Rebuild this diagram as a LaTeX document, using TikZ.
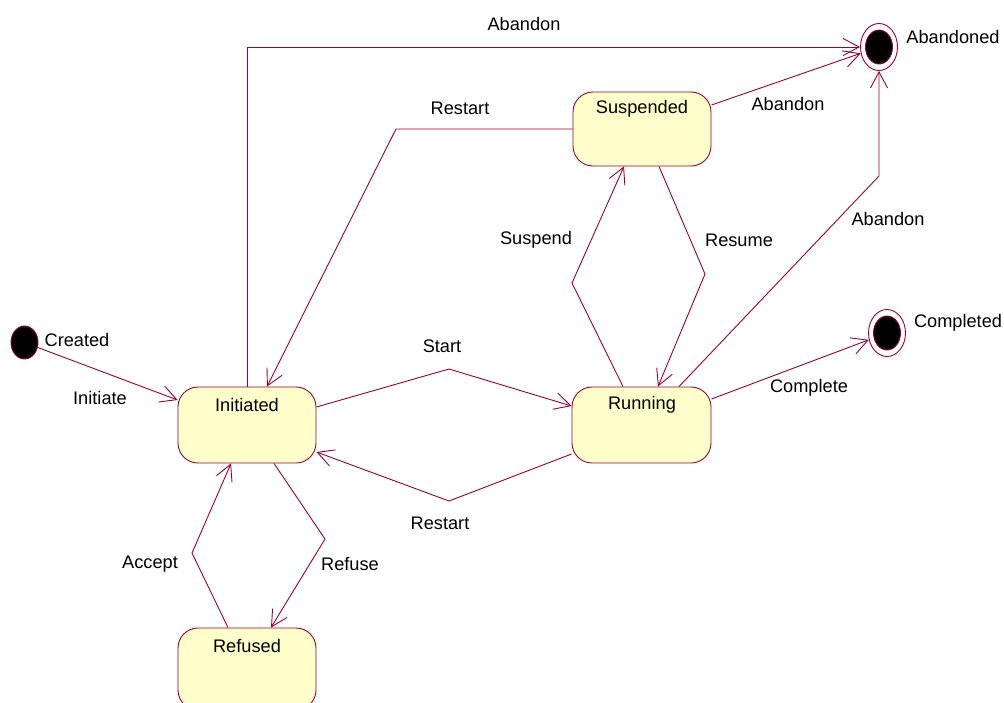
\documentclass[tikz,border=0pt]{standalone}
\usepackage{fontspec}
\setmainfont{Liberation Sans}
\usetikzlibrary{arrows.meta,shapes.geometric}
\definecolor{edgecol}{RGB}{153,0,51}
\definecolor{statefill}{RGB}{255,255,204}
\begin{document}
\begin{tikzpicture}[x=1pt,y=-1pt,
  every node/.style={font=\fontsize{18.2}{22}\selectfont, inner sep=0pt},
  state/.style={draw=edgecol, fill=statefill, line width=0.9pt, rounded corners=20pt,
    minimum width=138pt, minimum height=76pt, rectangle},
  initial/.style={ellipse, draw=edgecol, fill=black, line width=0.9pt,
    minimum width=27pt, minimum height=33pt},
  finalouter/.style={ellipse, draw=edgecol, fill=white, line width=0.9pt,
    minimum width=37pt, minimum height=47pt},
  finalinner/.style={ellipse, draw=edgecol, fill=black, line width=0.9pt,
    minimum width=27pt, minimum height=34pt},
  trans/.style={draw=edgecol, line width=0.9pt,
    -{Straight Barb[length=16pt,width=17pt,line width=0.9pt]}},
  lbl/.style={text=black}
]
\useasboundingbox (0,0) rectangle (1004,702);
\fill[white] (0,0) rectangle (1004,702);
\clip (0,0) rectangle (1004,702);

% states
\node[state] (init) at (247,425) {};
\node[state, minimum height=74pt] (susp) at (642,129) {};
\node[state, minimum width=139pt] (run) at (641.5,425) {};
\node[state, minimum height=82pt] (ref) at (247,669) {};

\node[lbl] (tinit) at (247,405) {Initiated};
\node[lbl] (tsusp) at (642,109) {Suspended};
\node[lbl] (trun) at (642,405) {Running};
\node[lbl] (tref) at (247,646) {Refused};

% pseudo states
\node[initial] (created) at (24.5,342.5) {};
\node[finalouter] (abandoned) at (879,47) {};
\node[finalinner] (abandonedin) at (879,47) {};
\node[finalouter] (completed) at (887,333) {};
\node[finalinner] (completedin) at (887,333) {};

\node[lbl] (tcreated) at (77,340) {Created};
\node[lbl] (tabandoned) at (953,37) {Abandoned};
\node[lbl] (tcompleted) at (958,323) {Completed};

% bend points
\coordinate (brestart) at (396,129);
\coordinate (bsuspend) at (572,283);
\coordinate (bresume) at (705,274);
\coordinate (babandon) at (879,176);
\coordinate (bstart) at (449,369);
\coordinate (brestart2) at (449,501);
\coordinate (brefuse) at (325,539);
\coordinate (baccept) at (192,553);

% transitions
\draw[trans] (created) -- ([yshift=25pt]init.west);
\draw[trans] (init.north) |- (abandoned.west);
\draw[trans] (susp.west) -- (brestart) -- ([xshift=20pt]init.north);
\draw[trans] ([yshift=24pt]susp.east) -- (abandoned);
\draw[trans] ([xshift=-18.5pt]run.north) -- (bsuspend) -- ([xshift=-18pt]susp.south);
\draw[trans] ([xshift=17pt]susp.south) -- (bresume) -- ([xshift=16.5pt]run.north);
\draw[trans] ([xshift=37.5pt]run.north) -- (babandon) -- (abandoned.south);
\draw[trans] ([yshift=26pt]run.east) -- (completed);
\draw[trans] ([yshift=18pt]init.east) -- (bstart) -- ([yshift=19pt]run.west);
\draw[trans] ([yshift=-29pt]run.west) -- (brestart2) -- ([yshift=-27pt]init.east);
\draw[trans] ([xshift=27pt]init.south) -- (brefuse) -- ([xshift=24pt]ref.north);
\draw[trans] ([xshift=-19pt]ref.north) -- (baccept) -- ([xshift=-16pt]init.south);

% transition labels
\node[lbl] (linitiate) at (100,398) {Initiate};
\node[lbl] (labandon1) at (524,24) {Abandon};
\node[lbl] (lrestart1) at (460,108) {Restart};
\node[lbl] (labandon2) at (788,104) {Abandon};
\node[lbl] (lsuspend) at (536,240) {Suspend};
\node[lbl] (lresume) at (739,240) {Resume};
\node[lbl] (labandon3) at (888,219) {Abandon};
\node[lbl] (lstart) at (442,346) {Start};
\node[lbl] (lrestart2) at (440,523) {Restart};
\node[lbl] (lcomplete) at (809,388) {Complete};
\node[lbl] (laccept) at (150,564) {Accept};
\node[lbl] (lrefuse) at (350,564) {Refuse};
\end{tikzpicture}
\end{document}
